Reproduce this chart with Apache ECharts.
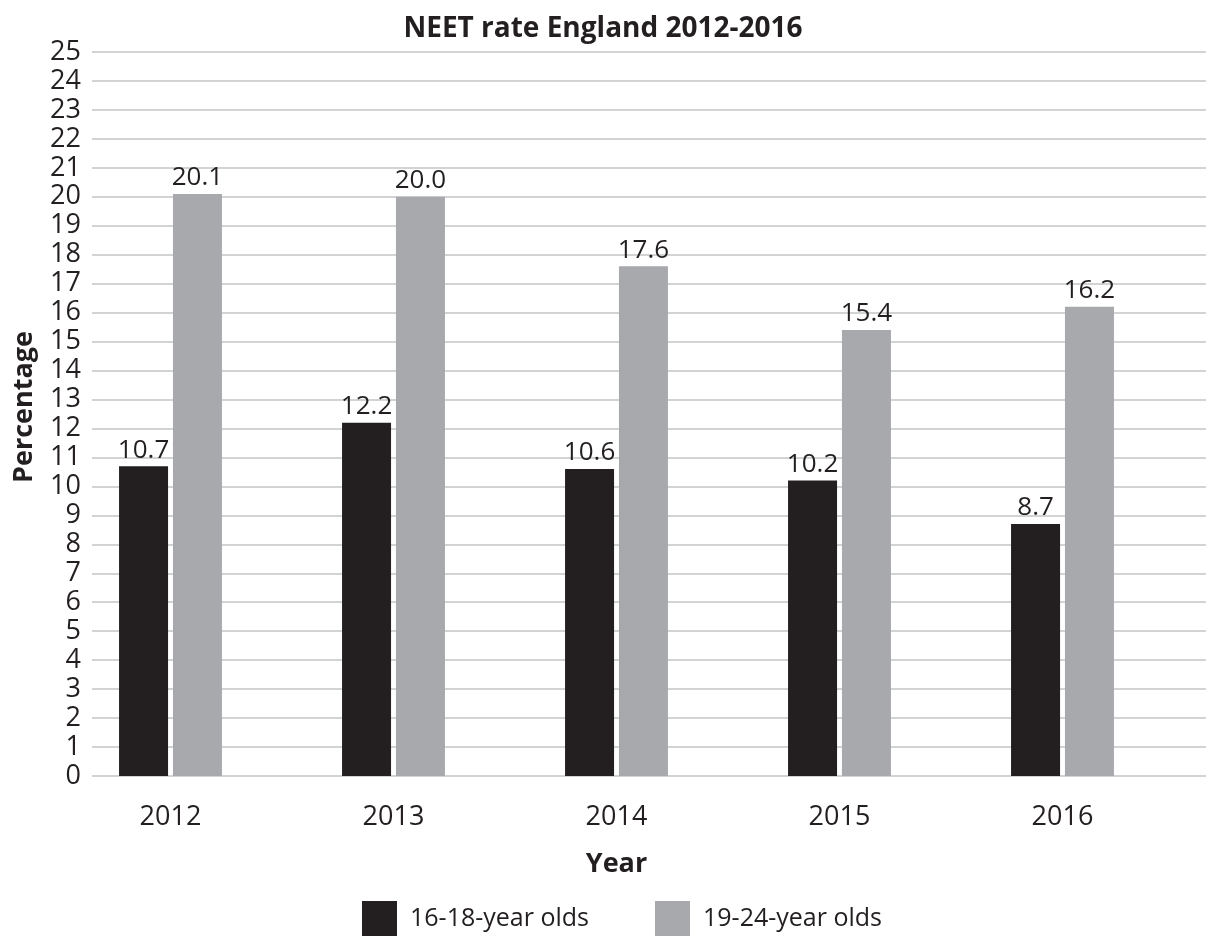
<!DOCTYPE html>
<html>
<head>
<meta charset="utf-8">
<script src="https://cdn.jsdelivr.net/npm/echarts@6/dist/echarts.min.js"></script>
<style>
html,body{margin:0;padding:0;background:#fff;}
#chart{width:1206px;height:936px;}
</style>
</head>
<body>
<div id="chart"></div>
<script>
const years = ['2012', '2013', '2014', '2015', '2016'];
const seriesNames = ['16-18-year olds', '19-24-year olds'];
const neet1618 = [10.7, 12.2, 10.6, 10.2, 8.7];
const neet1924 = [20.1, 20.0, 17.6, 15.4, 16.2];
const yMin = 0, yMax = 25, yStep = 1;

const FONT = 'Open Sans';
const TXT = '#231f20';
const chart = echarts.init(document.getElementById('chart'));
const valueLabel = {
  show: true, position: 'top', distance: 3,
  fontFamily: FONT, fontSize: 26, color: TXT,
  formatter: p => Number(p.value).toFixed(1)
};
chart.setOption({
  animation: false,
  backgroundColor: '#ffffff',
  title: {
    text: 'NEET rate England 2012-2016',
    left: 'center', top: 10,
    textStyle: { fontFamily: FONT, fontSize: 28, fontWeight: 'bold', color: TXT }
  },
  legend: {
    data: seriesNames,
    left: 357, top: 896,
    itemWidth: 35, itemHeight: 35, itemGap: 66,
    icon: 'rect',
    textStyle: { fontFamily: FONT, fontSize: 25, color: TXT, padding: [0, 0, 0, 8] }
  },
  grid: [
    { left: 92, right: 0, top: 52, bottom: 160 },
    { left: 59, right: 32, top: 52, bottom: 160 }
  ],
  xAxis: [
    { gridIndex: 0, type: 'value', show: false, min: 0, max: 1 },
    {
      gridIndex: 1, type: 'category', data: years,
      axisLine: { show: false }, axisTick: { show: false },
      axisLabel: { fontFamily: FONT, fontSize: 27, color: TXT, margin: 28 },
      name: 'Year', nameLocation: 'middle', nameGap: 75,
      nameTextStyle: { fontFamily: FONT, fontSize: 27, fontWeight: 'bold', color: TXT }
    }
  ],
  yAxis: [
    {
      gridIndex: 0, type: 'value', min: yMin, max: yMax, interval: yStep,
      axisLine: { show: false }, axisTick: { show: false },
      axisLabel: { fontFamily: FONT, fontSize: 27, color: TXT, margin: 11 },
      splitLine: { show: true, lineStyle: { color: '#d1d3d4', width: 2 } },
      name: 'Percentage', nameLocation: 'middle', nameGap: 54, nameRotate: 90,
      nameTextStyle: { fontFamily: FONT, fontSize: 27, fontWeight: 'bold', color: TXT, padding: [0, 0, 0, 14] }
    },
    { gridIndex: 1, type: 'value', min: yMin, max: yMax, interval: yStep, show: false }
  ],
  series: [
    {
      name: seriesNames[0], type: 'bar', xAxisIndex: 1, yAxisIndex: 1,
      data: neet1618, barWidth: 49, barGap: '10%',
      itemStyle: { color: '#231f20' }, label: valueLabel
    },
    {
      name: seriesNames[1], type: 'bar', xAxisIndex: 1, yAxisIndex: 1,
      data: neet1924, barWidth: 49, barGap: '10%',
      itemStyle: { color: '#a7a9ac' }, label: valueLabel
    }
  ]
});
</script>
</body>
</html>
